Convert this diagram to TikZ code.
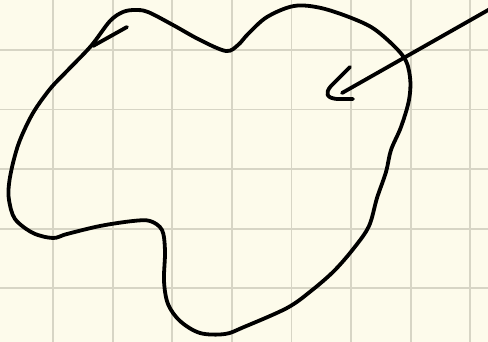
\documentclass[tikz,border=0pt]{standalone}
\usepackage{tikz}
\usetikzlibrary{calc}

\definecolor{paper}{HTML}{FDFBEB}
\definecolor{gridline}{HTML}{D7D5C5}

\tikzset{
    pen/.style={line width=1.9pt, line cap=round, line join=round},
    gridrule/.style={gridline, line width=0.9pt}
}

\begin{document}
\begin{tikzpicture}[x=0.5pt, y=-0.5pt]
                \fill[paper] (0,0) rectangle (488,342);
                \useasboundingbox (0,0) rectangle (488,342);
                % grid
                \foreach \i in {0,...,7}
                    \draw[gridrule] ({53+59.6*\i},0) -- ({53+59.6*\i},342);
                \foreach \j in {0,...,4}
                    \draw[gridrule] (0,{50+59.6*\j}) -- (488,{50+59.6*\j});
                % blob
                \draw[pen] plot[smooth cycle, tension=0.55] coordinates {
                    (91,46) (110,21) (123,12) (135,10) (148,12) (173,25) (200,40)
                    (226,51) (238,45) (248,34) (267,17) (294,6) (321,8) (354,19)
                    (377,31) (403,56) (410,77) (409,100) (401,127) (391,150)
                    (386,172) (377,198) (369,226) (354,248) (334,271) (311,291)
                    (287,308) (244,327) (225,334) (200,333) (180,321) (168,304)
                    (164,281) (165,251) (162,230) (150,221) (133,221) (100,226)
                    (67,234) (53,238) (33,233) (15,219) (9,200) (9,184) (13,163)
                    (20,140) (33,113) (50,89) (67,71)};
                \draw[pen] (127,27) -- (93,46);
                % arrow
                \coordinate (tail) at (490,9);
                \coordinate (head) at (342,93);
                \draw[pen] (tail) -- (head);
                \draw[pen] (350,67) -- (331,86) .. controls (325,93) and (326,98) .. (337,99) -- (353,99);
            \end{tikzpicture}
\end{document}
